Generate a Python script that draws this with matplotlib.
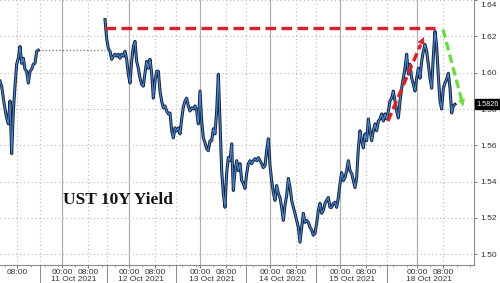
import matplotlib.pyplot as plt
import matplotlib.transforms as mtransforms
import numpy as np

# UST 10Y yield, half-hour samples on a compressed trading-hours axis
step_h = 0.5
fri_start = 0.0
fri_yield = [1.5954, 1.5926, 1.5860, 1.5800, 1.5751, 1.5718, 1.5844, 1.5554, 1.5789, 1.5926,
             1.6047, 1.6080, 1.6145, 1.6052, 1.6080, 1.6019, 1.6008, 1.5943, 1.6008, 1.6019,
             1.6047, 1.6052, 1.6118, 1.6124]

week_start = 31.5
week_yield = [1.6293, 1.6189, 1.6134, 1.6118, 1.6074, 1.6091, 1.6102, 1.6091, 1.6102, 1.6080,
              1.6102, 1.6091, 1.6118, 1.6074, 1.5992, 1.5943, 1.6063, 1.6145, 1.6173, 1.6063,
              1.6025, 1.5970, 1.5937, 1.5926, 1.5997, 1.6063, 1.6025, 1.6074, 1.5997, 1.5860,
              1.5954, 1.6008, 1.6008, 1.5899, 1.5844, 1.5806, 1.5817, 1.5789, 1.5773, 1.5778,
              1.5680, 1.5641, 1.5696, 1.5680, 1.5696, 1.5663, 1.5745, 1.5811, 1.5844, 1.5860,
              1.5817, 1.5789, 1.5806, 1.5800, 1.5817, 1.5789, 1.5718, 1.5899, 1.5734, 1.5641,
              1.5614, 1.5581, 1.5570, 1.5625, 1.5625, 1.5691, 1.5663, 1.5789, 1.5992, 1.5734,
              1.5460, 1.5334, 1.5258, 1.5449, 1.5532, 1.5515, 1.5608, 1.5351, 1.5460, 1.5515,
              1.5460, 1.5499, 1.5406, 1.5389, 1.5362, 1.5444, 1.5499, 1.5515, 1.5499, 1.5515,
              1.5526, 1.5515, 1.5532, 1.5515, 1.5499, 1.5477, 1.5488, 1.5570, 1.5636, 1.5488,
              1.5406, 1.5340, 1.5296, 1.5378, 1.5334, 1.5312, 1.5258, 1.5186, 1.5269, 1.5323,
              1.5417, 1.5367, 1.5296, 1.5258, 1.5225, 1.5186, 1.5148, 1.5066, 1.5148, 1.5225,
              1.5175, 1.5186, 1.5175, 1.5148, 1.5132, 1.5104, 1.5115, 1.5170, 1.5241, 1.5280,
              1.5225, 1.5241, 1.5280, 1.5296, 1.5312, 1.5258, 1.5258, 1.5280, 1.5285, 1.5258,
              1.5312, 1.5389, 1.5449, 1.5406, 1.5422, 1.5460, 1.5515, 1.5460, 1.5444, 1.5406,
              1.5367, 1.5422, 1.5581, 1.5680, 1.5625, 1.5586, 1.5663, 1.5625, 1.5745, 1.5680,
              1.5625, 1.5680, 1.5718, 1.5680, 1.5734, 1.5745, 1.5773, 1.5734, 1.5773, 1.5745,
              1.5789, 1.5844, 1.5860, 1.5899, 1.5844, 1.5789, 1.5751, 1.5844, 1.5915, 1.5970,
              1.6025, 1.6102, 1.5992, 1.6047, 1.5970, 1.5937, 1.5899, 1.5970, 1.6025, 1.5970,
              1.6063, 1.6118, 1.6156, 1.6118, 1.6047, 1.5970, 1.5915, 1.6091, 1.6228, 1.6145,
              1.5981, 1.5844, 1.5800, 1.5915, 1.5943, 1.5965, 1.5997, 1.5915, 1.5778, 1.5817,
              1.5826]

# day boundaries (00:00) on the trading-hours axis and date labels
day_start = [-2.6, 18.6, 38.7, 60.0, 81.0, 102.0, 125.1]
day_label = ['08 Oct 2021', '11 Oct 2021', '12 Oct 2021', '13 Oct 2021',
             '14 Oct 2021', '15 Oct 2021', '18 Oct 2021']
session_break = [12.0, 32.1, 52.8, 73.8, 94.8, 116.1]
open_offset = 7.8  # where 08:00 falls after 00:00

y_ticks = [1.50, 1.52, 1.54, 1.56, 1.58, 1.60, 1.62, 1.64]
resistance = 1.6244

# annotation arrows (x in hours, y in yield)
red_arrow = ((116.4, 1.5734), (127.5, 1.6211))
green_arrow = ((132.9, 1.6239), (139.2, 1.5800))

t_fri = fri_start + step_h * np.arange(len(fri_yield))
t_week = week_start + step_h * np.arange(len(week_yield))

fig = plt.figure(figsize=(5, 2.83), dpi=100)
ax = fig.add_axes([0, 18 / 283, 474 / 500, 265 / 283])
xmin, xmax = 0, 142.2
ax.set_xlim(xmin, xmax)
ax.set_ylim(1.4940, 1.6401)

grid_c = '#b8b8b8'
for y in y_ticks:
    ax.axhline(y, color=grid_c, lw=0.8, ls=(0, (1, 2.5)), zorder=0)
for d in day_start:
    ax.axvline(d, color='#b0b0b0', lw=0.9, zorder=0)
    ax.axvline(d + open_offset, color=grid_c, lw=0.8, ls=(0, (1, 2.5)), zorder=0)
for s in session_break:
    ax.axvline(s, color=grid_c, lw=0.8, ls=(0, (1, 2.5)), zorder=0)

# holiday gap
ax.plot([t_fri[-1], t_week[0]], [fri_yield[-1], fri_yield[-1]], color='#808080',
        lw=1.0, ls=(0, (1, 1.5)), zorder=1)

for t, v in [(t_fri, fri_yield), (t_week, week_yield)]:
    ax.plot(t, v, color='#15243f', lw=2.2, zorder=2)
    ax.plot(t, v, color='#4a86cf', lw=0.8, zorder=3)

# resistance level up to the recent peak
peak_i = 100 + int(np.argmax(week_yield[100:]))
ax.plot([t_week[0], t_week[peak_i]], [resistance, resistance], color='#d8202a',
        lw=2.4, ls=(0, (3.2, 1.6)), zorder=4, solid_capstyle='butt')


def dashed_arrow(p0, p1, color):
    (x0, y0), (x1, y1) = p0, p1
    ax.plot([x0, x0 + 0.88 * (x1 - x0)], [y0, y0 + 0.88 * (y1 - y0)], color=color,
            lw=2.4, ls=(0, (2.6, 1.3)), zorder=4)
    ax.annotate('', xy=(x1, y1), xytext=(x0 + 0.8 * (x1 - x0), y0 + 0.8 * (y1 - y0)),
                arrowprops=dict(arrowstyle='-|>', color=color, lw=0.5, mutation_scale=11),
                zorder=5)


dashed_arrow(*red_arrow, '#dc2026')
dashed_arrow(*green_arrow, '#6bdc45')

ax.text(0.133, 0.245, 'UST 10Y Yield', transform=ax.transAxes, family='Liberation Serif',
        fontweight='bold', fontsize=12.5, color='#111111', va='center', ha='left')

# axes styling
for side in ['top', 'left']:
    ax.spines[side].set_visible(False)
for side in ['right', 'bottom']:
    ax.spines[side].set_color('#8a8a8a')
    ax.spines[side].set_linewidth(0.8)

ax.yaxis.tick_right()
ax.set_yticks(y_ticks)
ax.set_yticklabels([f'{y:.2f}' for y in y_ticks])
ax.tick_params(axis='y', length=2.5, width=0.7, color='#777777', pad=2,
               labelsize=6, labelcolor='#333333')
# top label sits on the figure edge; nudge it down so it stays readable
top_lab = ax.get_yticklabels()[-1]
top_lab.set_transform(top_lab.get_transform() +
                      mtransforms.ScaledTranslation(0, -3 / 72, fig.dpi_scale_trans))

xt, xl = [], []
for d in day_start:
    for off, lab in [(0, '00:00'), (open_offset, '08:00')]:
        if xmin <= d + off <= xmax:
            xt.append(d + off)
            xl.append(lab)
ax.set_xticks(xt)
ax.set_xticklabels(xl)
minor = [d + h for d in day_start for h in (4, 12, 16, 20) if xmin < d + h < xmax]
ax.set_xticks(minor, minor=True)
ax.tick_params(axis='x', which='major', length=2, width=0.7, color='#777777', pad=1,
               labelsize=6, labelcolor='#333333')
ax.tick_params(axis='x', which='minor', length=1.5, width=0.6, color='#999999')
for lab in ax.get_xticklabels() + ax.get_yticklabels():
    lab.set_family('Liberation Sans')

trans = mtransforms.blended_transform_factory(ax.transData, ax.transAxes)
for s in session_break:
    ax.plot([s, s], [0, -0.07], color='#8a8a8a', lw=0.7, transform=trans, clip_on=False)
for d, lab in zip(day_start, day_label):
    if xmin <= d <= xmax:
        ax.text(d + 3.5, -0.053, lab, transform=trans, ha='center', va='center',
                fontsize=6, color='#333333', family='Liberation Sans')

trans_y = mtransforms.blended_transform_factory(ax.transAxes, ax.transData)
ax.text(1.005, week_yield[-1], f'{week_yield[-1]:.4f}', transform=trans_y, ha='left',
        va='center', fontsize=5.2, color='white', family='Liberation Sans',
        bbox=dict(boxstyle='square,pad=0.2', fc='black', ec='black'))

fig.savefig('out.png', dpi=100)
